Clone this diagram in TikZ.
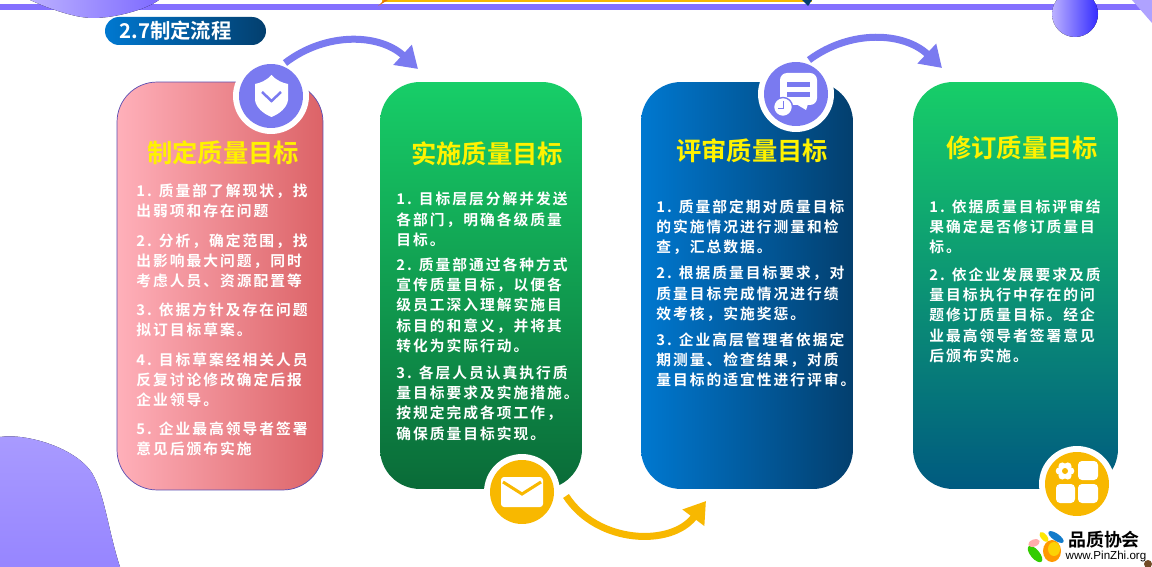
\documentclass[tikz,border=0pt]{standalone}
\usepackage{fontspec}
\usetikzlibrary{arrows.meta}
\usetikzlibrary{positioning}
\newfontfamily\cjkfont{Noto Sans CJK SC}[BoldFont={Noto Sans CJK SC Bold}]
\newfontfamily\cjkbody{Noto Sans CJK SC}[BoldFont={Noto Sans CJK SC Bold},LetterSpace=13.5]
\newfontfamily\logofont{Liberation Sans}
\definecolor{barpurple}{HTML}{8470FF}
\definecolor{flowpurple}{HTML}{7A7AF0}
\definecolor{flowyellow}{HTML}{F8B800}
\definecolor{pinklight}{HTML}{FFB0BA}
\definecolor{pinkdark}{HTML}{DC6367}
\definecolor{greentop}{HTML}{17CE68}
\definecolor{greendark}{HTML}{0A6B38}
\definecolor{bluelight}{HTML}{0078D0}
\definecolor{bluedark}{HTML}{033F6E}
\definecolor{tealdark}{HTML}{005A80}
\tikzset{
  cardbox/.style={rectangle,rounded corners=0.8cm,inner sep=0pt},
  cardtitle/.style={font=\cjkfont\bfseries\fontsize{14.4}{16}\selectfont,text=yellow,anchor=center},
  cardtext/.style={font=\cjkbody\bfseries\fontsize{8.4}{11.6}\selectfont,text=white,anchor=north west,align=left,inner sep=0pt},
  icondisc/.style={circle,minimum size=1.28cm,inner sep=0pt},
  iconring/.style={circle,fill=white,minimum size=1.52cm,inner sep=0pt},
  flowline/.style={line width=0.14cm,-{Triangle[length=0.42cm,width=0.52cm]}},
}
\begin{document}
\begin{tikzpicture}[x=0.02cm,y=-0.02cm]
\useasboundingbox (0,0) rectangle (1152,567);
\fill[white] (0,0) rectangle (1152,567);
\fill[barpurple] (0,4) rectangle (1152,10);
\fill[flowyellow] (382,0) rectangle (812,1.6);
\fill[orange!90!black] (378,6) -- (384,0) -- (388,0) -- cycle;
\fill[bluedark] (802,0) -- (812,0) -- (808,6) -- cycle;
\fill[left color=barpurple!55,right color=barpurple!95!blue] (30,0) .. controls (50,9) and (75,18) .. (93,18) .. controls (115,18) and (145,10) .. (159,0) -- cycle;
\fill[left color=barpurple!55,right color=blue!60!barpurple] (1075,14) circle (23);
\fill[barpurple!65] (1132,0) -- (1152,23) -- (1152,0) -- cycle;
\fill[top color=barpurple!70,bottom color=barpurple!85] (0,437) .. controls (25,433) and (75,447) .. (92,473) .. controls (105,495) and (108,530) .. (120,567) -- (0,567) -- cycle;

\node[rectangle,rounded corners=0.28cm,minimum width=3.22cm,minimum height=0.56cm,inner sep=0pt,left color=bluelight,right color=bluedark] (titlebar) at (185.5,31) {};
\node[font=\cjkfont\bfseries\fontsize{11.6}{13}\selectfont,text=white,anchor=west,inner sep=0pt] (titletext) at (119,31) {2.7制定流程};

\node[cardbox,draw=barpurple!70!black,minimum width=4.12cm,minimum height=8.16cm,left color=pinklight,right color=pinkdark] (carda) at (220,286) {};
\node[cardbox,minimum width=4.04cm,minimum height=8.14cm,top color=greentop,bottom color=greendark] (cardb) at (481,285.5) {};
\node[cardbox,minimum width=4.24cm,minimum height=8.14cm,left color=bluelight,right color=bluedark] (cardc) at (747,285.5) {};
\node[cardbox,minimum width=4.10cm,minimum height=8.14cm,top color=greentop,bottom color=tealdark] (cardd) at (1015.5,285.5) {};

\node[cardtitle] (titlea) at (223,153) {制定质量目标};
\node[cardtitle] (titleb) at (487,154) {实施质量目标};
\node[cardtitle] (titlec) at (752,151) {评审质量目标};
\node[cardtitle] (titled) at (1022,148) {修订质量目标};

\node[cardtext] (texta1) at (136,183) {1. 质量部了解现状，找\\出弱项和存在问题};
\node[cardtext] (texta2) at (136,233) {2. 分析，确定范围，找\\出影响最大问题，同时\\考虑人员、资源配置等};
\node[cardtext] (texta3) at (136,302) {3. 依据方针及存在问题\\拟订目标草案。};
\node[cardtext] (texta4) at (136,352) {4. 目标草案经相关人员\\反复讨论修改确定后报\\企业领导。};
\node[cardtext] (texta5) at (136,421) {5. 企业最高领导者签署\\意见后颁布实施};

\node[cardtext] (textb1) at (396,192) {1. 目标层层分解并发送\\各部门，明确各级质量\\目标。};
\node[cardtext] (textb2) at (396,257) {2. 质量部通过各种方式\\宣传质量目标，以便各\\级员工深入理解实施目\\标目的和意义，并将其\\转化为实际行动。};
\node[cardtext] (textb3) at (396,365) {3. 各层人员认真执行质\\量目标要求及实施措施。\\按规定完成各项工作，\\确保质量目标实现。};

\node[cardtext] (textc1) at (656,199) {1. 质量部定期对质量目标\\的实施情况进行测量和检\\查，汇总数据。};
\node[cardtext] (textc2) at (656,266) {2. 根据质量目标要求，对\\质量目标完成情况进行绩\\效考核，实施奖惩。};
\node[cardtext] (textc3) at (656,332) {3. 企业高层管理者依据定\\期测量、检查结果，对质\\量目标的适宜性进行评审。};

\node[cardtext] (textd1) at (929,199) {1. 依据质量目标评审结\\果确定是否修订质量目\\标。};
\node[cardtext] (textd2) at (929,267) {2. 依企业发展要求及质\\量目标执行中存在的问\\题修订质量目标。经企\\业最高领导者签署意见\\后颁布实施。};

\node[iconring] (ringa) at (271,96) {};
\node[icondisc,fill=flowpurple] (disca) at (271,96) {};
\fill[white] (271.5,75) .. controls (266,81) and (260,83) .. (255,84) -- (255,100) .. controls (256,108) and (264,114) .. (271.5,117) .. controls (279,114) and (287,108) .. (288,100) -- (288,84) .. controls (283,83) and (277,81) .. (271.5,75) -- cycle;
\draw[flowpurple,line width=0.05cm] (262,92) -- (271.5,101) -- (281,92);

\node[iconring] (ringb) at (522,492) {};
\node[icondisc,fill=flowyellow] (discb) at (522,492) {};
\fill[white,rounded corners=0.06cm] (501,477) rectangle (543,507);
\draw[flowyellow,line width=0.06cm] (503,482) -- (522,494) -- (541,482);

\node[iconring] (ringc) at (796,94) {};
\node[icondisc,fill=flowpurple] (discc) at (796,94) {};
\fill[white,rounded corners=0.14cm] (780,73) -- (817,73) -- (817,105) -- (780,105) -- cycle;
\fill[white] (796,104) -- (806,110) -- (808,104) -- cycle;
\fill[flowpurple] (787,82) rectangle (810,87);
\fill[flowpurple] (787,92) rectangle (810,97);
\draw[fill=white,draw=flowpurple,thick] (783,107) circle (9.5);
\draw[flowpurple,thin] (783,101) -- (783,108) -- (778,108);

\node[iconring] (ringd) at (1077,484) {};
\node[icondisc,fill=flowyellow] (discd) at (1077,484) {};
\fill[white,rounded corners=0.08cm] (1078,461) rectangle (1098,480);
\fill[white,rounded corners=0.08cm] (1056,484) rectangle (1075,503);
\fill[white,rounded corners=0.08cm] (1078,484) rectangle (1098,503);
\foreach \petal in {0,60,...,300}
  \fill[white] (1065,471) ++(\petal:5.5) circle (3.8);
\fill[white] (1065,471) circle (6);
\fill[flowyellow] (1065,471) circle (3);

\coordinate (flowastart) at (285,63);
\coordinate (flowaend) at (418,69);
\coordinate (flowbstart) at (566,496);
\coordinate (flowbend) at (706,501);
\coordinate (flowcstart) at (809,60);
\coordinate (flowcend) at (942,68);
\draw[flowline,flowpurple] (flowastart) to[bend left=40] (flowaend);
\draw[flowline,flowyellow] (flowbstart) to[bend right=55,looseness=1.05] (flowbend);
\draw[flowline,flowpurple] (flowcstart) to[bend left=40] (flowcend);

\fill[orange!80!yellow] (1052,551) ellipse (9 and 11);
\fill[yellow!70!orange] (1054,549) ellipse (6 and 7);
\fill[green!60!olive,rotate around={-50:(1035,554)}] (1035,554) ellipse (10 and 4.5);
\fill[pink!90!red,rotate around={20:(1034,543)}] (1034,543) ellipse (6 and 3.5);
\fill[yellow!90!orange,rotate around={-50:(1044,537)}] (1044,537) ellipse (6 and 3);
\fill[cyan!60!blue,rotate around={-35:(1056,537)}] (1056,537) ellipse (9 and 3.5);
\node[font=\cjkfont\bfseries\fontsize{10.2}{12}\selectfont,text=black,anchor=center,inner sep=0pt] (logoname) at (1104,539.5) {品质协会};
\node[font=\logofont\fontsize{6.6}{8}\selectfont,text=black,anchor=center,inner sep=0pt] (logourl) at (1106,556.5) {www.PinZhi.org};
\fill[brown!60!black] (1148,564) circle (4);
\end{tikzpicture}
\end{document}
